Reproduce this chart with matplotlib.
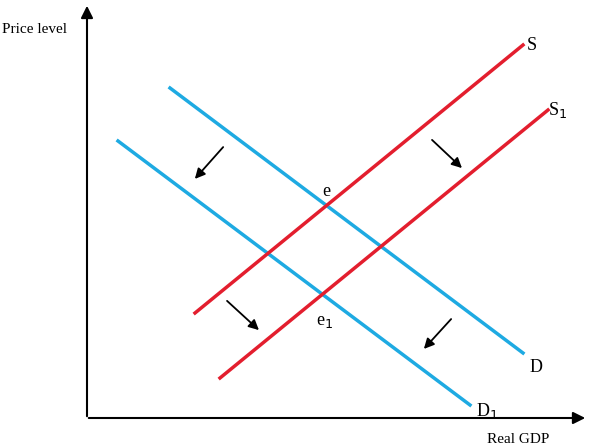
import matplotlib.pyplot as plt

# curve endpoints (pixel space of the original diagram)
d_x = [170, 523]; d_y = [88, 353]
d1_x = [118, 470]; d1_y = [141, 405]
s_x = [195, 523]; s_y = [313, 45]
s1_x = [220, 548]; s1_y = [378, 110]
shift_arrows = [((225, 145), (193, 181)), ((430, 138), (464, 170)),
                ((225, 299), (261, 332)), ((453, 317), (422, 351))]

plt.rcParams['font.family'] = 'Liberation Serif'
fig = plt.figure(figsize=(5.9, 4.46), dpi=100)
ax = fig.add_axes([0, 0, 1, 1])
ax.set_xlim(0, 590)
ax.set_ylim(446, 0)
ax.axis('off')

blue = '#1eaae2'
red = '#e31e2e'
ax.plot(d_x, d_y, color=blue, lw=2.5)
ax.plot(d1_x, d1_y, color=blue, lw=2.5)
ax.plot(s_x, s_y, color=red, lw=2.5)
ax.plot(s1_x, s1_y, color=red, lw=2.5)

# axes with arrowheads
ax.annotate('', xy=(87, 3), xytext=(87, 419),
            arrowprops=dict(arrowstyle='-|>', color='black', lw=1.5, mutation_scale=18))
ax.annotate('', xy=(588, 418), xytext=(86, 418),
            arrowprops=dict(arrowstyle='-|>', color='black', lw=1.5, mutation_scale=18))

for start, end in shift_arrows:
    ax.annotate('', xy=end, xytext=start,
                arrowprops=dict(arrowstyle='-|>', color='black', lw=1.3, mutation_scale=15))

fs = 13
ax.text(2, 33, 'Price level', fontsize=11)
ax.text(487, 443, 'Real GDP', fontsize=11)
ax.text(527, 50, 'S', fontsize=fs)
ax.text(548, 115, 'S$_1$', fontsize=fs)
ax.text(530, 372, 'D', fontsize=fs)
ax.text(476, 416, 'D$_1$', fontsize=fs)
ax.text(322, 196, 'e', fontsize=fs)
ax.text(316, 325, 'e$_1$', fontsize=fs)

fig.savefig('out.png', dpi=100)
